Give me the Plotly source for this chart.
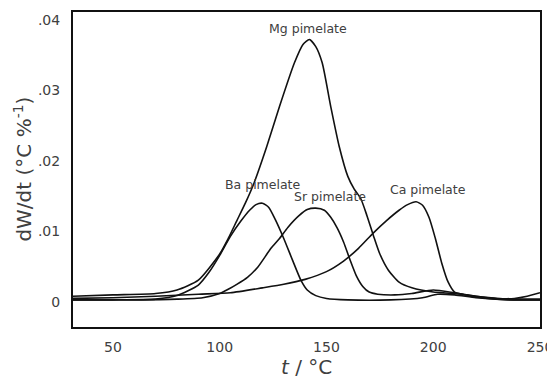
import plotly.graph_objects as go

# ---- data ----
mg_x = [31, 50, 70, 80, 90, 100, 104, 108, 112, 116, 122, 128, 135, 139, 142, 145, 148, 152, 156, 160, 163, 166, 169, 172, 175, 179, 184, 190, 200, 210, 220, 230, 240, 250]
mg_y = [0.0008, 0.0010, 0.0012, 0.0017, 0.0031, 0.0068, 0.0090, 0.0115, 0.0140, 0.0168, 0.0220, 0.0277, 0.0339, 0.0365, 0.0372, 0.0362, 0.0339, 0.0277, 0.0220, 0.0178, 0.0160, 0.0147, 0.0122, 0.0094, 0.0068, 0.0045, 0.0028, 0.0020, 0.0014, 0.0012, 0.0008, 0.0005, 0.0004, 0.0004]

ba_x = [31, 50, 70, 80, 90, 95, 100, 105, 110, 114, 117, 120, 123, 126, 130, 134, 138, 141, 145, 150, 160, 180, 195, 202, 210, 220, 235, 250]
ba_y = [0.0003, 0.0003, 0.0004, 0.0009, 0.0024, 0.0042, 0.0066, 0.0093, 0.0115, 0.0130, 0.0138, 0.0140, 0.0134, 0.0117, 0.0090, 0.0060, 0.0031, 0.0017, 0.0009, 0.0005, 0.0003, 0.0003, 0.0006, 0.0011, 0.0010, 0.0006, 0.0003, 0.0003]

sr_x = [31, 60, 80, 92, 100, 104, 108, 113, 118, 124, 128, 132, 137, 141, 145, 149, 152, 155, 158, 161, 164, 167, 170, 174, 182, 190, 200, 210, 220, 230, 238, 244, 250]
sr_y = [0.0003, 0.0003, 0.0004, 0.0006, 0.0012, 0.0018, 0.0025, 0.0035, 0.0050, 0.0076, 0.0090, 0.0106, 0.0122, 0.0131, 0.0133, 0.0130, 0.0120, 0.0105, 0.0085, 0.0060, 0.0037, 0.0022, 0.0014, 0.0011, 0.0010, 0.0012, 0.0017, 0.0013, 0.0008, 0.0005, 0.0005, 0.0008, 0.0013]

ca_x = [31, 50, 70, 90, 105, 120, 130, 140, 150, 158, 165, 172, 178, 184, 188, 192, 195, 198, 201, 204, 207, 210, 215, 220, 230, 240, 250]
ca_y = [0.0005, 0.0006, 0.0008, 0.0011, 0.0013, 0.0020, 0.0025, 0.0032, 0.0043, 0.0058, 0.0076, 0.0098, 0.0115, 0.0130, 0.0138, 0.0142, 0.0137, 0.0120, 0.0090, 0.0055, 0.0028, 0.0014, 0.0010, 0.0007, 0.0004, 0.0003, 0.0003]

series_names = ["Mg pimelate", "Ba pimelate", "Sr pimelate", "Ca pimelate"]
label_x = [141.5, 120.5, 151.5, 197.5]
label_y = [0.0388, 0.0166, 0.0150, 0.0160]

x_ticks = [50, 100, 150, 200, 250]
y_tickvals = [0, 0.01, 0.02, 0.03, 0.04]
y_ticktext = ["0", ".01", ".02", ".03", ".04"]

FONT = "DejaVu Sans"
TXT = "#404040"

fig = go.Figure()
for xs, ys, nm in [(mg_x, mg_y, series_names[0]), (ba_x, ba_y, series_names[1]),
                   (sr_x, sr_y, series_names[2]), (ca_x, ca_y, series_names[3])]:
    fig.add_trace(go.Scatter(x=xs, y=ys, mode="lines", name=nm,
                             line=dict(color="#111111", width=1.6, shape="spline", smoothing=0.6),
                             showlegend=False, hoverinfo="skip"))

for nm, lx, ly in zip(series_names, label_x, label_y):
    fig.add_annotation(x=lx, y=ly, text=nm, showarrow=False,
                       font=dict(family=FONT, size=12.5, color=TXT))

# axis titles as paper-anchored annotations for exact placement
fig.add_annotation(xref="paper", yref="paper", x=0.5, y=-0.127,
                   xanchor="center", yanchor="middle",
                   text="<i>t</i> / °C", showarrow=False,
                   font=dict(family=FONT, size=20, color=TXT))
fig.add_annotation(xref="paper", yref="paper", x=-0.109, y=0.50,
                   xanchor="center", yanchor="middle", textangle=-90,
                   text="dW/dt (°C %<sup>-1</sup>)", showarrow=False,
                   font=dict(family=FONT, size=20, color=TXT))

# page body has an 8px margin, so the figure is sized to fill 555x382 from (8,8)
fig.update_layout(
    width=547, height=374,
    margin=dict(l=65, r=15, t=4, b=55, autoexpand=False),
    paper_bgcolor="white", plot_bgcolor="white",
    font=dict(family=FONT, color=TXT),
)
fig.update_xaxes(range=[31.3, 250], tickvals=x_ticks, showgrid=False, zeroline=False,
                 showline=True, mirror=True, linecolor="#111111", linewidth=2,
                 ticks="", ticklabelstandoff=6, automargin=False,
                 tickfont=dict(family=FONT, size=14, color=TXT))
fig.update_yaxes(range=[-0.00355, 0.0411], tickvals=y_tickvals, ticktext=y_ticktext,
                 showgrid=False, zeroline=False,
                 showline=True, mirror=True, linecolor="#111111", linewidth=2,
                 ticks="", ticklabelstandoff=8, automargin=False,
                 tickfont=dict(family=FONT, size=14, color=TXT))

fig.write_html("out.html")
